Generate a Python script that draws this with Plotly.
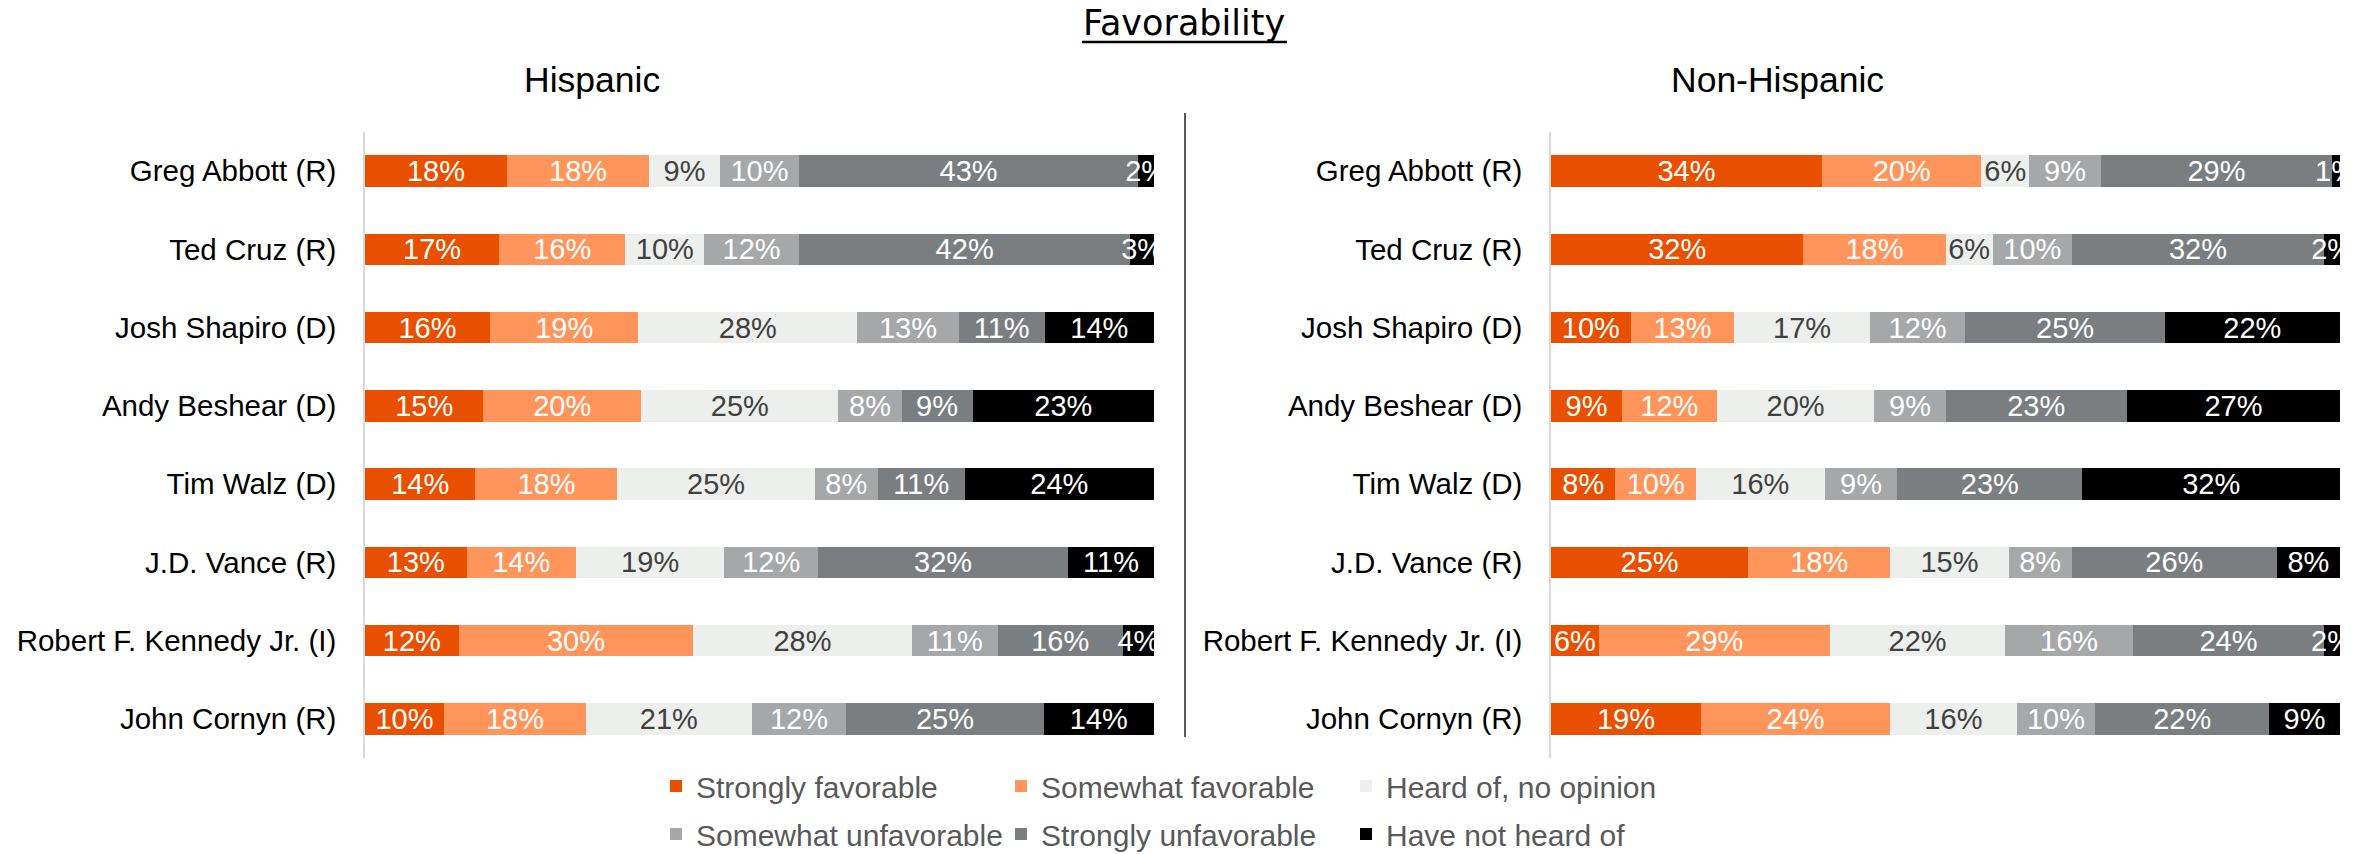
import plotly.graph_objects as go

candidates = ["Greg Abbott (R)", "Ted Cruz (R)", "Josh Shapiro (D)", "Andy Beshear (D)",
              "Tim Walz (D)", "J.D. Vance (R)", "Robert F. Kennedy Jr. (I)", "John Cornyn (R)"]

series_names = ["Strongly favorable", "Somewhat favorable", "Heard of, no opinion",
                "Somewhat unfavorable", "Strongly unfavorable", "Have not heard of"]
series_colors = ["#E85000", "#FF955A", "#EDEFED", "#A5A7A9", "#7B7E81", "#000000"]
label_colors = ["#FFFFFF", "#FFFFFF", "#404040", "#FFFFFF", "#FFFFFF", "#FFFFFF"]

# Hispanic
hisp_strong_fav = [18, 17, 16, 15, 14, 13, 12, 10]
hisp_some_fav = [18, 16, 19, 20, 18, 14, 30, 18]
hisp_no_opinion = [9, 10, 28, 25, 25, 19, 28, 21]
hisp_some_unfav = [10, 12, 13, 8, 8, 12, 11, 12]
hisp_strong_unfav = [43, 42, 11, 9, 11, 32, 16, 25]
hisp_not_heard = [2, 3, 14, 23, 24, 11, 4, 14]

# Non-Hispanic
non_strong_fav = [34, 32, 10, 9, 8, 25, 6, 19]
non_some_fav = [20, 18, 13, 12, 10, 18, 29, 24]
non_no_opinion = [6, 6, 17, 20, 16, 15, 22, 16]
non_some_unfav = [9, 10, 12, 9, 9, 8, 16, 10]
non_strong_unfav = [29, 32, 25, 23, 23, 26, 24, 22]
non_not_heard = [1, 2, 22, 27, 32, 8, 2, 9]

hisp = [hisp_strong_fav, hisp_some_fav, hisp_no_opinion, hisp_some_unfav, hisp_strong_unfav, hisp_not_heard]
non = [non_strong_fav, non_some_fav, non_no_opinion, non_some_unfav, non_strong_unfav, non_not_heard]

W, H = 2367, 854
FONT = "Liberation Sans, Arial, sans-serif"

fig = go.Figure()

for i, name in enumerate(series_names):
    leg = "legend" if i < 3 else "legend2"
    for vals, xa, ya, show in [(hisp, "x", "y", True), (non, "x2", "y2", False)]:
        fig.add_trace(go.Bar(
            name=name, y=candidates, x=vals[i], orientation="h",
            xaxis=xa, yaxis=ya,
            marker=dict(color=series_colors[i], line=dict(width=0)),
            text=[f"{v}%" for v in vals[i]],
            textposition="inside", insidetextanchor="middle", textangle=0,
            textfont=dict(family=FONT, size=29, color=label_colors[i]),
            cliponaxis=True, showlegend=show, legend=leg, hoverinfo="skip",
        ))

def px_x(p):
    return p / W

def px_y(p):
    return 1 - p / H

ydom = [px_y(758), px_y(132)]
yaxis_common = dict(
    type="category", autorange="reversed", domain=ydom, automargin=False,
    showline=True, linecolor="#D9D9D9", linewidth=1.5,
    ticks="outside", ticklen=21, tickcolor="rgba(0,0,0,0)",
    tickfont=dict(family=FONT, size=29.5, color="#000000"),
    showgrid=False, zeroline=False, fixedrange=True,
)
xaxis_common = dict(range=[0, 100], visible=False, showgrid=False, zeroline=False,
                    fixedrange=True, automargin=False)

legend_common = dict(
    orientation="h", xanchor="left", yanchor="middle",
    font=dict(family=FONT, size=30, color="#595959"),
    entrywidth=300, entrywidthmode="pixels", itemwidth=30,
    bgcolor="rgba(0,0,0,0)", borderwidth=0, traceorder="normal",
)

fig.update_layout(
    width=W, height=H,
    margin=dict(l=0, r=0, t=0, b=0, autoexpand=False),
    paper_bgcolor="white", plot_bgcolor="white",
    barmode="stack", barnorm="percent", bargap=0.6,
    uniformtext=dict(minsize=29, mode="show"),
    xaxis=dict(domain=[px_x(365), px_x(1154)], anchor="y", **xaxis_common),
    xaxis2=dict(domain=[px_x(1551), px_x(2340)], anchor="y2", **xaxis_common),
    yaxis=dict(anchor="x", **yaxis_common),
    yaxis2=dict(anchor="x2", **yaxis_common),
    legend=dict(x=px_x(656), y=px_y(786), **legend_common),
    legend2=dict(x=px_x(656), y=px_y(834), **legend_common),
    annotations=[
        dict(text="Favorability", x=0.5, y=px_y(23), xref="paper", yref="paper",
             xanchor="center", yanchor="middle", showarrow=False,
             font=dict(family="DejaVu Sans, sans-serif", size=35, color="#000000")),
        dict(text="Hispanic", x=px_x(592), y=px_y(80), xref="paper", yref="paper",
             xanchor="center", yanchor="middle", showarrow=False,
             font=dict(family=FONT, size=35.5, color="#000000")),
        dict(text="Non-Hispanic", x=px_x(1777), y=px_y(80), xref="paper", yref="paper",
             xanchor="center", yanchor="middle", showarrow=False,
             font=dict(family=FONT, size=35.5, color="#000000")),
    ],
    shapes=[
        dict(type="line", xref="paper", yref="paper", x0=px_x(1185), x1=px_x(1185),
             y0=px_y(737), y1=px_y(113), line=dict(color="#595959", width=2)),
        dict(type="line", xref="paper", yref="paper", x0=px_x(1082), x1=px_x(1287),
             y0=px_y(42), y1=px_y(42), line=dict(color="#000000", width=2.5)),
    ],
)

fig.write_html("out.html", config={"displayModeBar": False},
               post_script="document.body.style.margin='0';document.body.style.overflow='hidden';")
